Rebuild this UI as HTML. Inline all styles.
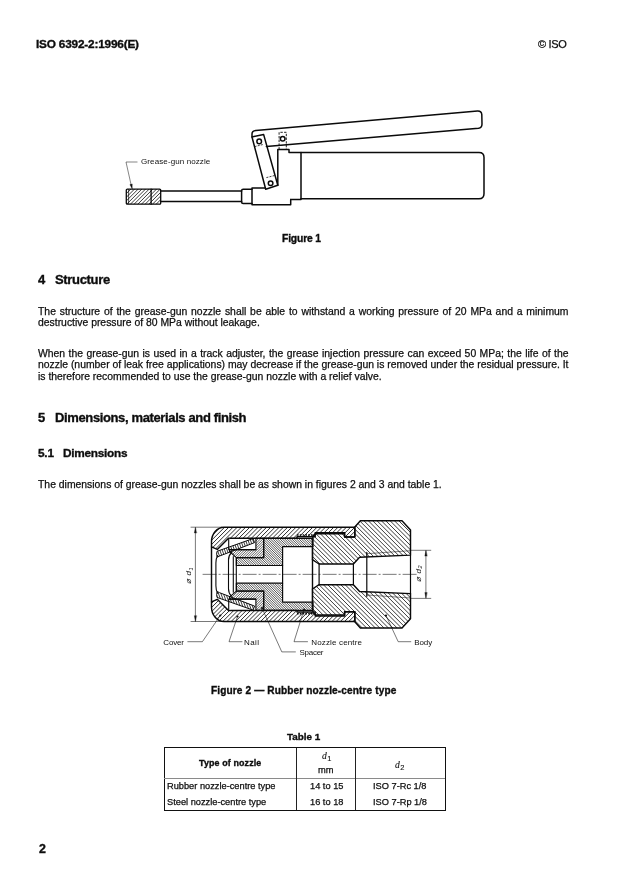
<!DOCTYPE html>
<html><head><meta charset="utf-8">
<style>
html,body{margin:0;padding:0;background:#fff;}
body{width:619px;height:877px;position:relative;overflow:hidden;font-family:"Liberation Sans",sans-serif;color:#0c0c0c;}
.t{position:absolute;white-space:pre;line-height:1;will-change:transform;}
.t{-webkit-text-stroke:0.25px #111;}
.b{font-weight:bold;-webkit-text-stroke:0.35px #111;}
.j{text-align:justify;text-align-last:justify;white-space:normal;}
.p{font-size:10.4px;left:37.5px;}
svg{position:absolute;left:0;top:0;}
</style></head><body>
<div class="t b" id="hdr" style="left:36.2px;top:38.7px;font-size:11.8px;letter-spacing:-0.19px;">ISO 6392-2:1996(E)</div>
<div class="t" id="iso" style="left:538px;top:38.6px;font-size:11px;letter-spacing:-0.35px;">© ISO</div>

<div class="t b" id="f1" style="left:282.4px;top:233.9px;font-size:10.3px;letter-spacing:-0.15px;">Figure 1</div>

<div class="t b" id="h4n" style="left:37.5px;top:272.8px;font-size:13px;">4</div>
<div class="t b" id="h4" style="left:54.7px;top:272.8px;font-size:13px;letter-spacing:-0.33px;">Structure</div>

<div class="t p" id="p1a" style="top:306.5px;word-spacing:0.927px;">The structure of the grease-gun nozzle shall be able to withstand a working pressure of 20 MPa and a minimum</div>
<div class="t p" id="p1b" style="top:317.5px;">destructive pressure of 80 MPa without leakage.</div>

<div class="t p" id="p2a" style="top:348.5px;word-spacing:0.562px;">When the grease-gun is used in a track adjuster, the grease injection pressure can exceed 50 MPa; the life of the</div>
<div class="t p" id="p2b" style="top:359.5px;word-spacing:-0.017px;">nozzle (number of leak free applications) may decrease if the grease-gun is removed under the residual pressure. It</div>
<div class="t p" id="p2c" style="top:371.5px;">is therefore recommended to use the grease-gun nozzle with a relief valve.</div>

<div class="t b" id="h5n" style="left:37.5px;top:410.5px;font-size:13px;">5</div>
<div class="t b" id="h5" style="left:54.7px;top:410.5px;font-size:13px;letter-spacing:-0.37px;">Dimensions, materials and finish</div>

<div class="t b" id="h51n" style="left:37.7px;top:448.3px;font-size:11.8px;letter-spacing:-0.2px;">5.1</div>
<div class="t b" id="h51" style="left:63.3px;top:448.3px;font-size:11.8px;letter-spacing:-0.26px;">Dimensions</div>

<div class="t p" id="p3" style="top:480.3px;left:38.1px;">The dimensions of grease-gun nozzles shall be as shown in figures 2 and 3 and table 1.</div>

<div class="t b" id="f2" style="left:211.2px;top:686.1px;font-size:10.1px;letter-spacing:0.12px;">Figure 2 — Rubber nozzle-centre type</div>

<div class="t b" id="tb1" style="left:287px;top:731.5px;font-size:9.9px;">Table 1</div>


<!-- TABLE -->
<div id="tblbox" style="position:absolute;left:163.6px;top:746.9px;width:280.8px;height:62.2px;border:1.2px solid #111;border-top-width:1.6px;box-sizing:content-box;"></div>
<div style="position:absolute;left:164px;top:778px;width:281px;height:1px;background:#8a8a8a;"></div>
<div style="position:absolute;left:296px;top:748px;width:0;height:61.8px;border-left:1px solid #222;"></div>
<div style="position:absolute;left:354.9px;top:748px;width:0;height:61.8px;border-left:1px solid #222;"></div>
<div class="t b" id="th1" style="left:199.1px;top:758.5px;font-size:8.9px;letter-spacing:0.14px;">Type of nozzle</div>
<div class="t" id="th2" style="left:321.5px;top:751.3px;font-size:9.6px;font-family:'Liberation Serif',serif;font-style:italic;-webkit-text-stroke:0.1px #111;">d<span style="font-family:'Liberation Sans',sans-serif;font-style:normal;font-size:7.5px;position:relative;top:2px;left:0.4px;">1</span></div>
<div class="t" id="th2b" style="left:318.2px;top:766px;font-size:9.3px;">mm</div>
<div class="t" id="th3" style="left:394.5px;top:759.6px;font-size:9.6px;font-family:'Liberation Serif',serif;font-style:italic;-webkit-text-stroke:0.1px #111;">d<span style="font-family:'Liberation Sans',sans-serif;font-style:normal;font-size:7.5px;position:relative;top:2px;left:0.4px;">2</span></div>
<div class="t" id="r1a" style="left:166.6px;top:782.0px;font-size:9.26px;">Rubber nozzle-centre type</div>
<div class="t" id="r2a" style="left:166.6px;top:797.9px;font-size:9.26px;">Steel nozzle-centre type</div>
<div class="t" id="r1b" style="left:310px;top:782.0px;font-size:9.26px;">14 to 15</div>
<div class="t" id="r2b" style="left:310px;top:797.9px;font-size:9.26px;">16 to 18</div>
<div class="t" id="r1c" style="left:372.6px;top:782.0px;font-size:9.26px;">ISO 7-Rc 1/8</div>
<div class="t" id="r2c" style="left:372.6px;top:797.9px;font-size:9.26px;">ISO 7-Rp 1/8</div>
<div class="t b" id="pg" style="left:39.2px;top:842.6px;font-size:12.4px;">2</div>

<svg id="fig" width="619" height="877" viewBox="0 0 619 877" fill="none" stroke="#0a0a0a" stroke-width="1.5" stroke-linecap="round" stroke-linejoin="round">
<!-- FIGURE 1 -->
<text id="lb1" x="141" y="163.8" font-family="Liberation Sans, sans-serif" font-size="8px" fill="#111" stroke="none" textLength="69.3" lengthAdjust="spacing">Grease-gun nozzle</text>
<g id="fig1">
<!-- NOZ --><clipPath id="c11"><path d="M127.3 189.1H159.7Q160.7 189.1 160.7 190.1V203.2Q160.7 204.2 159.7 204.2H127.3Q126.3 204.2 126.3 203.2V190.1Q126.3 189.1 127.3 189.1Z"/></clipPath><g clip-path="url(#c11)"><path d="M108.98 192.53L139.03 162.48M110.82 194.36L140.86 164.32M112.66 196.20L142.70 166.16M114.50 198.04L144.54 168.00M116.34 199.88L146.38 169.84M118.18 201.72L148.22 171.68M120.02 203.56L150.06 173.52M121.85 205.39L151.89 175.35M123.69 207.23L153.73 177.19M125.53 209.07L155.57 179.03M127.37 210.91L157.41 180.87M129.21 212.75L159.25 182.71M131.05 214.59L161.09 184.55M132.89 216.43L162.93 186.39M134.72 218.26L164.76 188.22M136.56 220.10L166.60 190.06M138.40 221.94L168.44 191.90M140.24 223.78L170.28 193.74M142.08 225.62L172.12 195.58M143.92 227.46L173.96 197.42M145.75 229.29L175.79 199.25" stroke-width="0.8" stroke-linecap="butt" fill="none"/></g><path d="M127.3 189.1H159.7Q160.7 189.1 160.7 190.1V203.2Q160.7 204.2 159.7 204.2H127.3Q126.3 204.2 126.3 203.2V190.1Q126.3 189.1 127.3 189.1Z" fill="none" stroke-width="1.3"/><path d="M151.1 189.1V204.2" stroke-width="1.3"/><path d="M128.6 189.5V203.8" stroke-width="0.7"/><!-- /NOZ -->
<path d="M160.7 191.1H241.6M160.7 201.6H241.6"/>
<path d="M252 189.2H243.1Q241.6 189.2 241.6 190.7V201.9Q241.6 203.4 243.1 203.4H252"/>
<path d="M266 187.9H252V204.7H290.7V199.5"/>
<path d="M277.8 185.3V149.5H289V152.4H301V199.5H290.7"/>
<path d="M301 152.5H479Q484 152.5 484 157.5V193.7Q484 198.7 479 198.7H301"/>
<path d="M252 137L263.6 134.4L277.8 185.3L265.7 189.2Z" fill="#fff"/>
<circle cx="259.2" cy="141.4" r="2.3"/>
<circle cx="270.6" cy="183.2" r="2.3"/>
<circle cx="282.7" cy="138.8" r="2.3"/>
<path d="M279.1 149.5V132.3H286.3V149.5" stroke-width="0.9" stroke-dasharray="2.4 1.3" stroke-linecap="butt"/>
<path d="M252 137V134Q252 130.8 255.8 130.5L477.5 111Q481.4 110.8 481.8 114.5L482 124Q482 127.8 478.5 128.3L266.4 146.4"/>
<path d="M254.6 146.6L263.8 144.3M266.4 177.6L275.4 175.3" stroke-width="0.8" stroke-dasharray="2 1.2" stroke-linecap="butt"/>
<path d="M137.1 162H126L131.6 187" stroke-width="0.5"/>
<path d="M132.2 189.1L129.9 184.6L132.1 184.1Z" fill="#111" stroke-width="0.3"/>
</g>
<!-- FIGURE 2 -->
<g id="fig2">
<clipPath id="c1"><path d="M354.8 527.2H224A12.5 14.5 0 0 0 211.5 541.7V546.8L217.3 549.4L228.5 538.2H297V536.8H315.2V532.8H344.6V537H354.8Z"/></clipPath><g clip-path="url(#c1)"><path d="M171.79 533.85L277.85 427.79M173.89 535.95L279.95 429.89M175.99 538.05L282.05 431.99M178.09 540.15L284.15 434.09M180.19 542.25L286.25 436.19M182.29 544.35L288.35 438.29M184.39 546.45L290.45 440.39M186.49 548.55L292.55 442.49M188.59 550.65L294.65 444.59M190.69 552.75L296.75 446.69M192.79 554.85L298.85 448.79M194.89 556.95L300.95 450.89M196.99 559.05L303.05 452.99M199.09 561.15L305.15 455.09M201.19 563.25L307.25 457.19M203.29 565.35L309.35 459.29M205.39 567.45L311.45 461.39M207.49 569.55L313.55 463.49M209.59 571.65L315.65 465.59M211.69 573.75L317.75 467.69M213.79 575.85L319.85 469.79M215.89 577.95L321.95 471.89M217.99 580.05L324.05 473.99M220.09 582.15L326.15 476.09M222.19 584.25L328.25 478.19M224.29 586.35L330.35 480.29M226.39 588.45L332.45 482.39M228.49 590.55L334.55 484.49M230.59 592.65L336.65 486.59M232.69 594.75L338.75 488.69M234.79 596.85L340.85 490.79M236.89 598.95L342.95 492.89M238.99 601.05L345.05 494.99M241.09 603.15L347.15 497.09M243.19 605.25L349.25 499.19M245.29 607.35L351.35 501.29M247.39 609.45L353.45 503.39M249.49 611.55L355.55 505.49M251.59 613.65L357.65 507.59M253.69 615.75L359.75 509.69M255.79 617.85L361.85 511.79M257.89 619.95L363.95 513.89M259.99 622.05L366.05 515.99M262.09 624.15L368.15 518.09M264.19 626.25L370.25 520.19M266.29 628.35L372.35 522.29M268.39 630.45L374.45 524.39M270.49 632.55L376.55 526.49M272.59 634.65L378.65 528.59M274.70 636.75L380.75 530.70M276.80 638.85L382.85 532.80M278.90 640.95L384.95 534.90M281.00 643.05L387.05 537.00M283.10 645.15L389.15 539.10M285.20 647.25L391.25 541.20" stroke-width="0.85" stroke-linecap="butt" fill="none"/></g><path d="M354.8 527.2H224A12.5 14.5 0 0 0 211.5 541.7V546.8L217.3 549.4L228.5 538.2H297V536.8H315.2V532.8H344.6V537H354.8Z" fill="none" stroke-width="1.45"/>
<clipPath id="c2"><path d="M354.8 621.5H224A12.5 14.5 0 0 1 211.5 607.0V601.9L217.3 599.3L228.5 610.5H297V611.9H315.2V615.9H344.6V611.7H354.8Z"/></clipPath><g clip-path="url(#c2)"><path d="M172.14 604.90L278.20 498.84M174.24 607.00L280.30 500.94M176.34 609.10L282.40 503.04M178.44 611.20L284.50 505.14M180.54 613.30L286.60 507.24M182.64 615.40L288.70 509.34M184.74 617.50L290.80 511.44M186.84 619.60L292.90 513.54M188.94 621.70L295.00 515.64M191.04 623.80L297.10 517.74M193.14 625.90L299.20 519.84M195.24 628.00L301.30 521.94M197.34 630.10L303.40 524.04M199.44 632.20L305.50 526.14M201.54 634.30L307.60 528.24M203.64 636.40L309.70 530.34M205.74 638.50L311.80 532.44M207.84 640.60L313.90 534.54M209.94 642.70L316.00 536.64M212.04 644.80L318.10 538.74M214.14 646.90L320.20 540.84M216.24 649.00L322.30 542.94M218.34 651.10L324.40 545.04M220.44 653.20L326.50 547.14M222.54 655.30L328.60 549.24M224.64 657.40L330.70 551.34M226.74 659.50L332.80 553.44M228.84 661.60L334.90 555.54M230.94 663.70L337.00 557.64M233.04 665.80L339.10 559.74M235.14 667.90L341.20 561.84M237.24 670.00L343.30 563.94M239.35 672.10L345.40 566.05M241.45 674.20L347.50 568.15M243.55 676.30L349.60 570.25M245.65 678.40L351.70 572.35M247.75 680.50L353.80 574.45M249.85 682.60L355.90 576.55M251.95 684.70L358.00 578.65M254.05 686.80L360.10 580.75M256.15 688.90L362.20 582.85M258.25 691.00L364.30 584.95M260.35 693.10L366.40 587.05M262.45 695.20L368.50 589.15M264.55 697.30L370.60 591.25M266.65 699.40L372.70 593.35M268.75 701.50L374.80 595.45M270.85 703.60L376.90 597.55M272.95 705.70L379.00 599.65M275.05 707.80L381.10 601.75M277.15 709.90L383.20 603.85M279.25 712.00L385.30 605.95M281.35 714.10L387.40 608.05M283.45 716.20L389.50 610.15M285.55 718.30L391.60 612.25" stroke-width="0.85" stroke-linecap="butt" fill="none"/></g><path d="M354.8 621.5H224A12.5 14.5 0 0 1 211.5 607.0V601.9L217.3 599.3L228.5 610.5H297V611.9H315.2V615.9H344.6V611.7H354.8Z" fill="none" stroke-width="1.45"/>
<path d="M211.5 547V601.7" stroke-width="1.45"/>
<path d="M297 535H315M297 613.7H315" stroke-width="1.4" stroke-dasharray="1.6 1.2" stroke-linecap="butt"/>
<path d="M228.7 538.6L228.7 549.6L255.9 549.6" stroke-width="1.1" fill="#fff"/>
<path d="M228.7 610.1L228.7 599.1L255.9 599.1" stroke-width="1.1" fill="#fff"/>
<clipPath id="c3"><path d="M229.5 549.6L255.9 549.6L255.9 538.3L263.7 538.3L263.7 557.6L236.4 557.6L229.5 551.5Z"/></clipPath><g clip-path="url(#c3)"><path d="M213.92 545.87L244.52 515.27M215.16 547.10L245.75 516.51M216.39 548.34L246.99 517.74M217.63 549.58L248.23 518.98M218.87 550.82L249.47 520.22M220.11 552.05L250.70 521.46M221.34 553.29L251.94 522.69M222.58 554.53L253.18 523.93M223.82 555.77L254.42 525.17M225.06 557.00L255.65 526.41M226.29 558.24L256.89 527.64M227.53 559.48L258.13 528.88M228.77 560.72L259.37 530.12M230.01 561.95L260.60 531.36M231.24 563.19L261.84 532.59M232.48 564.43L263.08 533.83M233.72 565.67L264.32 535.07M234.96 566.90L265.55 536.31M236.19 568.14L266.79 537.54M237.43 569.38L268.03 538.78M238.67 570.62L269.27 540.02M239.91 571.85L270.50 541.26M241.14 573.09L271.74 542.49M242.38 574.33L272.98 543.73M243.62 575.56L274.21 544.97M244.86 576.80L275.45 546.21M246.09 578.04L276.69 547.44M247.33 579.28L277.93 548.68M248.57 580.51L279.16 549.92" stroke-width="0.65" stroke-linecap="butt" fill="none"/></g><path d="M229.5 549.6L255.9 549.6L255.9 538.3L263.7 538.3L263.7 557.6L236.4 557.6L229.5 551.5Z" fill="none" stroke-width="1.1"/>
<clipPath id="c4"><path d="M229.5 599.1L255.9 599.1L255.9 610.4L263.7 610.4L263.7 591.1L236.4 591.1L229.5 597.2Z"/></clipPath><g clip-path="url(#c4)"><path d="M213.51 598.25L244.10 567.66M214.74 599.49L245.34 568.89M215.98 600.73L246.58 570.13M217.22 601.96L247.81 571.37M218.46 603.20L249.05 572.61M219.69 604.44L250.29 573.84M220.93 605.68L251.53 575.08M222.17 606.91L252.76 576.32M223.41 608.15L254.00 577.56M224.64 609.39L255.24 578.79M225.88 610.63L256.48 580.03M227.12 611.86L257.71 581.27M228.36 613.10L258.95 582.51M229.59 614.34L260.19 583.74M230.83 615.58L261.43 584.98M232.07 616.81L262.66 586.22M233.31 618.05L263.90 587.46M234.54 619.29L265.14 588.69M235.78 620.53L266.38 589.93M237.02 621.76L267.61 591.17M238.25 623.00L268.85 592.40M239.49 624.24L270.09 593.64M240.73 625.48L271.33 594.88M241.97 626.71L272.56 596.12M243.20 627.95L273.80 597.35M244.44 629.19L275.04 598.59M245.68 630.43L276.28 599.83M246.92 631.66L277.51 601.07M248.15 632.90L278.75 602.30" stroke-width="0.65" stroke-linecap="butt" fill="none"/></g><path d="M229.5 599.1L255.9 599.1L255.9 610.4L263.7 610.4L263.7 591.1L236.4 591.1L229.5 597.2Z" fill="none" stroke-width="1.1"/>
<clipPath id="c5"><path d="M216.7 553.8L217 551.3L253 538.6L254.6 542.6L219.6 556L217.6 557Z"/></clipPath><g clip-path="url(#c5)"><path d="M254.09 516.54L269.87 559.89M251.93 517.33L267.71 560.68M249.77 518.12L265.55 561.46M247.61 518.90L263.39 562.25M245.45 519.69L261.22 563.04M243.29 520.48L259.06 563.82M241.12 521.26L256.90 564.61M238.96 522.05L254.74 565.40M236.80 522.84L252.58 566.18M234.64 523.62L250.42 566.97M232.48 524.41L248.26 567.76M230.32 525.20L246.09 568.54M228.16 525.98L243.93 569.33M225.99 526.77L241.77 570.12M223.83 527.56L239.61 570.90M221.67 528.34L237.45 571.69M219.51 529.13L235.29 572.48M217.35 529.92L233.13 573.26M215.19 530.70L230.97 574.05M213.03 531.49L228.80 574.84M210.87 532.28L226.64 575.62M208.70 533.06L224.48 576.41M206.54 533.85L222.32 577.20M204.38 534.64L220.16 577.98M202.22 535.42L218.00 578.77" stroke-width="0.8" stroke-linecap="butt" fill="none"/></g><path d="M216.7 553.8L217 551.3L253 538.6L254.6 542.6L219.6 556L217.6 557Z" fill="none" stroke-width="1"/>
<clipPath id="c6"><path d="M216.7 594.9L217 597.4L253 610.1L254.6 606.1L219.6 592.7L217.6 591.7Z"/></clipPath><g clip-path="url(#c6)"><path d="M253.87 569.72L269.64 613.07M251.71 570.51L267.48 613.86M249.54 571.30L265.32 614.65M247.38 572.08L263.16 615.43M245.22 572.87L261.00 616.22M243.06 573.66L258.84 617.01M240.90 574.44L256.68 617.79M238.74 575.23L254.52 618.58M236.58 576.02L252.35 619.37M234.42 576.80L250.19 620.15M232.25 577.59L248.03 620.94M230.09 578.38L245.87 621.73M227.93 579.16L243.71 622.51M225.77 579.95L241.55 623.30M223.61 580.74L239.39 624.09M221.45 581.52L237.23 624.87M219.29 582.31L235.06 625.66M217.13 583.10L232.90 626.45M214.96 583.88L230.74 627.23M212.80 584.67L228.58 628.02M210.64 585.46L226.42 628.81M208.48 586.24L224.26 629.59M206.32 587.03L222.10 630.38M204.16 587.82L219.93 631.17M202.00 588.60L217.77 631.95" stroke-width="0.8" stroke-linecap="butt" fill="none"/></g><path d="M216.7 594.9L217 597.4L253 610.1L254.6 606.1L219.6 592.7L217.6 591.7Z" fill="none" stroke-width="1"/>
<clipPath id="c7"><path d="M236.4 557.7L263.7 557.7L263.7 538.3L313 538.3L313 546.6L282.6 546.6L282.6 565.5L236.4 565.5Z"/></clipPath><g clip-path="url(#c7)"><path d="M277.42 488.87L337.73 549.18M276.23 490.06L336.54 550.37M275.04 491.25L335.35 551.56M273.86 492.44L334.16 552.74M272.67 493.63L332.97 553.93M271.48 494.81L331.79 555.12M270.29 496.00L330.60 556.31M269.10 497.19L329.41 557.50M267.92 498.38L328.22 558.68M266.73 499.56L327.04 559.87M265.54 500.75L325.85 561.06M264.35 501.94L324.66 562.25M263.16 503.13L323.47 563.44M261.98 504.32L322.28 564.62M260.79 505.50L321.10 565.81M259.60 506.69L319.91 567.00M258.41 507.88L318.72 568.19M257.23 509.07L317.53 569.37M256.04 510.26L316.34 570.56M254.85 511.44L315.16 571.75M253.66 512.63L313.97 572.94M252.47 513.82L312.78 574.13M251.29 515.01L311.59 575.31M250.10 516.20L310.40 576.50M248.91 517.38L309.22 577.69M247.72 518.57L308.03 578.88M246.53 519.76L306.84 580.07M245.35 520.95L305.65 581.25M244.16 522.14L304.46 582.44M242.97 523.32L303.28 583.63M241.78 524.51L302.09 584.82M240.59 525.70L300.90 586.01M239.41 526.89L299.71 587.19M238.22 528.08L298.52 588.38M237.03 529.26L297.34 589.57M235.84 530.45L296.15 590.76M234.65 531.64L294.96 591.95M233.47 532.83L293.77 593.13M232.28 534.02L292.58 594.32M231.09 535.20L291.40 595.51M229.90 536.39L290.21 596.70M228.71 537.58L289.02 597.89M227.53 538.77L287.83 599.07M226.34 539.95L286.65 600.26M225.15 541.14L285.46 601.45M223.96 542.33L284.27 602.64M222.78 543.52L283.08 603.82M221.59 544.71L281.89 605.01M220.40 545.89L280.71 606.20M219.21 547.08L279.52 607.39M218.02 548.27L278.33 608.58M216.84 549.46L277.14 609.76M215.65 550.65L275.95 610.95M214.46 551.83L274.77 612.14M213.27 553.02L273.58 613.33" stroke-width="0.7" stroke-linecap="butt" fill="none"/></g><path d="M236.4 557.7L263.7 557.7L263.7 538.3L313 538.3L313 546.6L282.6 546.6L282.6 565.5L236.4 565.5Z" fill="none" stroke-width="1.2"/>
<clipPath id="c8"><path d="M236.4 591.0L263.7 591.0L263.7 610.4L313 610.4L313 602.1L282.6 602.1L282.6 583.2L236.4 583.2Z"/></clipPath><g clip-path="url(#c8)"><path d="M277.30 533.89L337.61 594.20M276.11 535.08L336.42 595.39M274.92 536.27L335.23 596.58M273.74 537.46L334.04 597.76M272.55 538.65L332.85 598.95M271.36 539.83L331.67 600.14M270.17 541.02L330.48 601.33M268.98 542.21L329.29 602.52M267.80 543.40L328.10 603.70M266.61 544.59L326.91 604.89M265.42 545.77L325.73 606.08M264.23 546.96L324.54 607.27M263.04 548.15L323.35 608.46M261.86 549.34L322.16 609.64M260.67 550.53L320.97 610.83M259.48 551.71L319.79 612.02M258.29 552.90L318.60 613.21M257.10 554.09L317.41 614.40M255.92 555.28L316.22 615.58M254.73 556.47L315.03 616.77M253.54 557.65L313.85 617.96M252.35 558.84L312.66 619.15M251.16 560.03L311.47 620.34M249.98 561.22L310.28 621.52M248.79 562.40L309.10 622.71M247.60 563.59L307.91 623.90M246.41 564.78L306.72 625.09M245.23 565.97L305.53 626.27M244.04 567.16L304.34 627.46M242.85 568.34L303.16 628.65M241.66 569.53L301.97 629.84M240.47 570.72L300.78 631.03M239.29 571.91L299.59 632.21M238.10 573.10L298.40 633.40M236.91 574.28L297.22 634.59M235.72 575.47L296.03 635.78M234.53 576.66L294.84 636.97M233.35 577.85L293.65 638.15M232.16 579.04L292.46 639.34M230.97 580.22L291.28 640.53M229.78 581.41L290.09 641.72M228.59 582.60L288.90 642.91M227.41 583.79L287.71 644.09M226.22 584.98L286.52 645.28M225.03 586.16L285.34 646.47M223.84 587.35L284.15 647.66M222.65 588.54L282.96 648.85M221.47 589.73L281.77 650.03M220.28 590.92L280.58 651.22M219.09 592.10L279.40 652.41M217.90 593.29L278.21 653.60M216.71 594.48L277.02 654.79M215.53 595.67L275.83 655.97M214.34 596.86L274.64 657.16M213.15 598.04L273.46 658.35" stroke-width="0.7" stroke-linecap="butt" fill="none"/></g><path d="M236.4 591.0L263.7 591.0L263.7 610.4L313 610.4L313 602.1L282.6 602.1L282.6 583.2L236.4 583.2Z" fill="none" stroke-width="1.2"/>
<path d="M312.6 546.6V602.1M282.6 565.5V583.2" stroke-width="1.2"/>
<clipPath id="c9"><path d="M312.4 539.3L313.2 536L315.6 533.8L344.6 533.8L344.6 537L354.8 537L354.8 527L360.4 520.7L402 520.8L410.5 530L410.5 555.1L359.6 557.2L353.4 564L319.1 564L312.4 559.7Z"/></clipPath><g clip-path="url(#c9)"><path d="M366.84 458.31L445.49 536.96M364.66 460.49L443.31 539.14M362.48 462.67L441.13 541.32M360.30 464.84L438.96 543.50M358.13 467.02L436.78 545.67M355.95 469.20L434.60 547.85M353.77 471.38L432.42 550.03M351.59 473.55L430.25 552.21M349.42 475.73L428.07 554.38M347.24 477.91L425.89 556.56M345.06 480.09L423.71 558.74M342.88 482.27L421.53 560.92M340.70 484.44L419.36 563.10M338.53 486.62L417.18 565.27M336.35 488.80L415.00 567.45M334.17 490.98L412.82 569.63M331.99 493.16L410.64 571.81M329.81 495.33L408.47 573.99M327.64 497.51L406.29 576.16M325.46 499.69L404.11 578.34M323.28 501.87L401.93 580.52M321.10 504.05L399.75 582.70M318.92 506.22L397.58 584.88M316.75 508.40L395.40 587.05M314.57 510.58L393.22 589.23M312.39 512.76L391.04 591.41M310.21 514.93L388.87 593.59M308.04 517.11L386.69 595.76M305.86 519.29L384.51 597.94M303.68 521.47L382.33 600.12M301.50 523.65L380.15 602.30M299.32 525.82L377.98 604.48M297.15 528.00L375.80 606.65M294.97 530.18L373.62 608.83M292.79 532.36L371.44 611.01M290.61 534.54L369.26 613.19M288.43 536.71L367.09 615.37M286.26 538.89L364.91 617.54M284.08 541.07L362.73 619.72M281.90 543.25L360.55 621.90M279.72 545.43L358.37 624.08" stroke-width="0.8" stroke-linecap="butt" fill="none"/></g><path d="M312.4 539.3L313.2 536L315.6 533.8L344.6 533.8L344.6 537L354.8 537L354.8 527L360.4 520.7L402 520.8L410.5 530L410.5 555.1L359.6 557.2L353.4 564L319.1 564L312.4 559.7Z" fill="none" stroke-width="1.45"/>
<clipPath id="c10"><path d="M312.4 609.4L313.2 612.7L315.6 614.9L344.6 614.9L344.6 611.7L354.8 611.7L354.8 621.7L360.4 628.0L402 627.9L410.5 618.7L410.5 593.6L359.6 591.5L353.4 584.7L319.1 584.7L312.4 589.0Z"/></clipPath><g clip-path="url(#c10)"><path d="M366.17 522.98L444.82 601.63M363.99 525.16L442.64 603.81M361.81 527.33L440.47 605.99M359.64 529.51L438.29 608.16M357.46 531.69L436.11 610.34M355.28 533.87L433.93 612.52M353.10 536.05L431.75 614.70M350.92 538.22L429.58 616.88M348.75 540.40L427.40 619.05M346.57 542.58L425.22 621.23M344.39 544.76L423.04 623.41M342.21 546.93L420.87 625.59M340.04 549.11L418.69 627.76M337.86 551.29L416.51 629.94M335.68 553.47L414.33 632.12M333.50 555.65L412.15 634.30M331.32 557.82L409.98 636.48M329.15 560.00L407.80 638.65M326.97 562.18L405.62 640.83M324.79 564.36L403.44 643.01M322.61 566.54L401.26 645.19M320.43 568.71L399.09 647.37M318.26 570.89L396.91 649.54M316.08 573.07L394.73 651.72M313.90 575.25L392.55 653.90M311.72 577.43L390.37 656.08M309.54 579.60L388.20 658.26M307.37 581.78L386.02 660.43M305.19 583.96L383.84 662.61M303.01 586.14L381.66 664.79M300.83 588.31L379.49 666.97M298.66 590.49L377.31 669.14M296.48 592.67L375.13 671.32M294.30 594.85L372.95 673.50M292.12 597.03L370.77 675.68M289.94 599.20L368.60 677.86M287.77 601.38L366.42 680.03M285.59 603.56L364.24 682.21M283.41 605.74L362.06 684.39M281.23 607.92L359.88 686.57M279.05 610.09L357.71 688.75" stroke-width="0.8" stroke-linecap="butt" fill="none"/></g><path d="M312.4 609.4L313.2 612.7L315.6 614.9L344.6 614.9L344.6 611.7L354.8 611.7L354.8 621.7L360.4 628.0L402 627.9L410.5 618.7L410.5 593.6L359.6 591.5L353.4 584.7L319.1 584.7L312.4 589.0Z" fill="none" stroke-width="1.45"/>
<path d="M410.5 555V593.7M366.8 552.4V596.3M353.4 564V584.7M319.1 564V584.7M312.4 559.7V589.0" stroke-width="1.2"/>
<path d="M366.8 553.7L410.5 550.7M366.8 595.0L410.5 598.0" stroke-width="0.5"/>
<path d="M231.5 552.5Q228.5 555.5 228.5 560V588.7Q228.5 593.2 231.5 596.2" stroke-width="1.1"/>
<path d="M233.3 556.5V592.2M236.3 557.7V591.0" stroke-width="1.1"/>
<path d="M217.6 555.5Q215.9 558.5 215.9 563V585.7Q215.9 590.2 217.6 593.2" stroke-width="1.1"/>
<path d="M202.6 574.35H417" stroke-width="0.55" stroke-dasharray="14 2 2 2" stroke-linecap="butt"/>
<path d="M191 527.2H222M191 621.5H222M195.4 528V621M410.5 550.3H430.8M410.5 598.4H430.8M425.9 551V597.6" stroke-width="0.55"/>
<path d="M195.4 527.5L194.3 533.0L196.5 533.0Z" fill="#111" stroke-width="0.3"/>
<path d="M195.4 621.2L194.3 615.7L196.5 615.7Z" fill="#111" stroke-width="0.3"/>
<path d="M425.9 550.6L424.79999999999995 556.1L427.0 556.1Z" fill="#111" stroke-width="0.3"/>
<path d="M425.9 598.1L424.79999999999995 592.6L427.0 592.6Z" fill="#111" stroke-width="0.3"/>
<path d="M187.8 641.7H202.4L220.3 615.5M242 641.7H229L237.3 617M295.4 651.9H281.8L262 608M307.5 641.7H294L304 609.7M410.8 641.7H398.2L386 615.5" stroke-width="0.55"/>
<circle cx="220.3" cy="615.5" r="1.1" fill="#111" stroke="none"/>
<circle cx="237.5" cy="616.5" r="1.1" fill="#111" stroke="none"/>
<circle cx="262" cy="608" r="1.1" fill="#111" stroke="none"/>
<circle cx="304" cy="609.7" r="1.1" fill="#111" stroke="none"/>
<circle cx="386" cy="615.5" r="1.1" fill="#111" stroke="none"/>
<text x="163.3" y="644.5" font-family="Liberation Sans, sans-serif" font-size="8px" fill="#111" stroke="none" textLength="20.6" lengthAdjust="spacing">Cover</text>
<text x="244" y="644.5" font-family="Liberation Sans, sans-serif" font-size="8px" fill="#111" stroke="none" textLength="15" lengthAdjust="spacing">Nail</text>
<text x="311.3" y="644.5" font-family="Liberation Sans, sans-serif" font-size="8px" fill="#111" stroke="none" textLength="50.7" lengthAdjust="spacing">Nozzle centre</text>
<text x="299.5" y="655.2" font-family="Liberation Sans, sans-serif" font-size="8px" fill="#111" stroke="none" textLength="24" lengthAdjust="spacing">Spacer</text>
<text x="414.2" y="644.5" font-family="Liberation Sans, sans-serif" font-size="8px" fill="#111" stroke="none" textLength="18" lengthAdjust="spacing">Body</text>
<text transform="translate(191.3 584) rotate(-90)" font-family="Liberation Sans, sans-serif" font-style="italic" font-size="8px" fill="#111" stroke="none" letter-spacing="0.6">⌀ d<tspan font-size="5.5px" dy="1.5">1</tspan></text>
<text transform="translate(420.8 582) rotate(-90)" font-family="Liberation Sans, sans-serif" font-style="italic" font-size="8px" fill="#111" stroke="none" letter-spacing="0.6">⌀ d<tspan font-size="5.5px" dy="1.5">2</tspan></text>
</g>
</svg>
</body></html>
